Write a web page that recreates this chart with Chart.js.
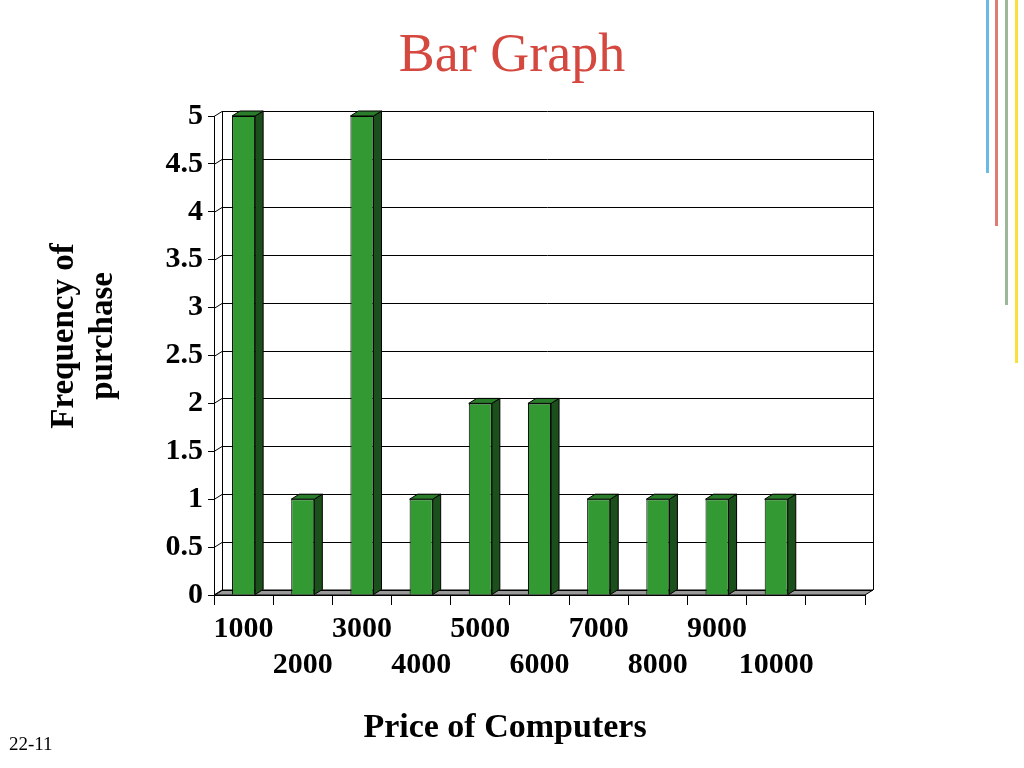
<!DOCTYPE html>
<html>
<head>
<meta charset="utf-8">
<script src="https://cdn.jsdelivr.net/npm/chart.js@4.4.1/dist/chart.umd.min.js"></script>
<style>
  body { margin: 0; background: #fff; }
  #wrap { position: relative; width: 1024px; height: 768px; overflow: hidden; font-family: "Liberation Serif", "Times New Roman", serif; }
  #chart { position: absolute; left: 0; top: 0; }
  .title { position: absolute; left: 0; width: 1024px; top: 20px; text-align: center; font-size: 54px; color: #d4483f; line-height: 66px; }
  .xtitle { position: absolute; left: 305px; width: 400px; top: 706px; text-align: center; font-size: 34px; font-weight: bold; line-height: 40px; }
  .ytitle { position: absolute; left: -68px; top: 297px; width: 300px; line-height: 39px; text-align: center; font-size: 33px; font-weight: bold; transform: rotate(-90deg); }
  .slide { position: absolute; left: 9px; top: 733px; font-size: 19px; }
  .deco { position: absolute; top: 0; width: 3px; }
</style>
</head>
<body>
<div id="wrap">
  <canvas id="chart" width="1024" height="768"></canvas>
  <div class="title">Bar Graph</div>
  <div class="ytitle">Frequency of<br>purchase</div>
  <div class="xtitle">Price of Computers</div>
  <div class="slide">22-11</div>
  <div class="deco" style="left:986px;height:173px;background:#6cb8e6"></div>
  <div class="deco" style="left:995px;height:226px;background:#e07b74"></div>
  <div class="deco" style="left:1005px;height:305px;background:#9cb79a"></div>
  <div class="deco" style="left:1015px;height:363px;background:#f6e23a"></div>
</div>
<script>
const categories = ['1000', '2000', '3000', '4000', '5000', '6000', '7000', '8000', '9000', '10000', ''];
const frequency = [5, 1, 5, 1, 2, 2, 1, 1, 1, 1, null];
const yTickLabels = ['0', '0.5', '1', '1.5', '2', '2.5', '3', '3.5', '4', '4.5', '5'];

const DX = 8, DY = -5;   // depth of the 3D effect
const FRONT = '#339933', SIDE = '#1b4f1b', TOP = '#2a7d2a';
const TICK_FONT = { family: '"Liberation Serif", "Times New Roman", serif', size: 30, weight: 'bold', lineHeight: '36px' };

function poly(ctx, pts, fill) {
    ctx.beginPath();
    ctx.moveTo(pts[0][0], pts[0][1]);
    for (let i = 1; i < pts.length; i++) ctx.lineTo(pts[i][0], pts[i][1]);
    ctx.closePath();
    if (fill) { ctx.fillStyle = fill; ctx.fill(); }
    ctx.stroke();
}

// back wall, floor and gridlines, drawn behind the bars
const wallPlugin = {
    id: 'wall',
    beforeDatasetsDraw(chart) {
        const { ctx, chartArea: a, scales: { y } } = chart;
        ctx.save();
        ctx.strokeStyle = '#000';
        ctx.lineWidth = 1;
        poly(ctx, [[a.left, a.bottom], [a.left + DX, a.bottom + DY], [a.right + DX, a.bottom + DY], [a.right, a.bottom]], '#9a9a9a');
        y.ticks.forEach(t => {
            const py = Math.round(y.getPixelForValue(t.value)) + 0.5;
            ctx.beginPath();
            ctx.moveTo(a.left, py);
            ctx.lineTo(a.left + DX, py + DY);
            ctx.lineTo(a.right + DX, py + DY);
            ctx.stroke();
        });
        ctx.beginPath();
        ctx.moveTo(a.left + DX + 0.5, a.top + DY);
        ctx.lineTo(a.left + DX + 0.5, a.bottom + DY);
        ctx.moveTo(a.right + DX + 0.5, a.top + DY);
        ctx.lineTo(a.right + DX + 0.5, a.bottom + DY);
        ctx.stroke();
        ctx.restore();
    },
    afterDatasetsDraw(chart) {
        const { ctx } = chart;
        ctx.save();
        ctx.strokeStyle = '#000';
        ctx.lineWidth = 1;
        chart.getDatasetMeta(0).data.forEach((bar, i) => {
            if (frequency[i] == null) return;
            const { x, y, base, width } = bar.getProps(['x', 'y', 'base', 'width'], true);
            const l = x - width / 2, r = x + width / 2;
            poly(ctx, [[r, y], [r + DX, y + DY], [r + DX, base + DY], [r, base]], SIDE);
            poly(ctx, [[l, y], [l + DX, y + DY], [r + DX, y + DY], [r, y]], TOP);
        });
        ctx.restore();
    }
};

new Chart(document.getElementById('chart'), {
    type: 'bar',
    data: {
        labels: categories,
        datasets: [{
            data: frequency,
            backgroundColor: FRONT,
            borderColor: '#000',
            borderWidth: 1,
            barPercentage: 0.39,
            categoryPercentage: 1
        }]
    },
    options: {
        responsive: false,
        animation: false,
        layout: { padding: { top: 116, right: 159, left: 0, bottom: 0 } },
        plugins: { legend: { display: false }, tooltip: { enabled: false } },
        scales: {
            x: {
                afterFit(scale) { scale.height = 173; },
                grid: { offset: true, drawOnChartArea: false, tickLength: 10, color: '#000' },
                border: { color: '#000' },
                ticks: {
                    color: '#000',
                    font: TICK_FONT,
                    padding: 6,
                    maxRotation: 0,
                    autoSkip: false,
                    callback: (v, i) => i % 2 === 0 ? [categories[i], ''] : ['', categories[i]]
                }
            },
            y: {
                min: 0,
                max: 5,
                afterFit(scale) { scale.width = 214; },
                grid: { drawOnChartArea: false, tickLength: 6, color: '#000' },
                border: { color: '#000' },
                ticks: {
                    stepSize: 0.5,
                    color: '#000',
                    font: TICK_FONT,
                    padding: 5,
                    callback: (v, i) => yTickLabels[i]
                }
            }
        }
    },
    plugins: [wallPlugin]
});
</script>
</body>
</html>
